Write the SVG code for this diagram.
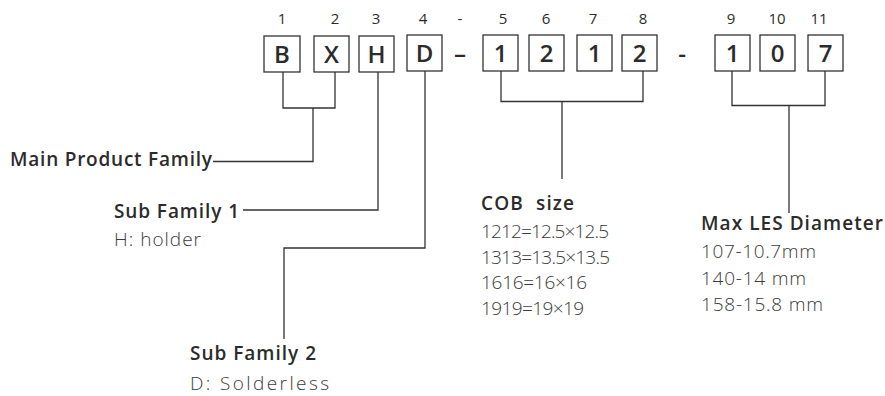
<svg xmlns="http://www.w3.org/2000/svg" width="885" height="396" viewBox="0 0 885 396">
<style>
.box{fill:#fff;stroke:#333;stroke-width:1.3}
.ch{font-family:"Open Sans","Liberation Sans",sans-serif;font-weight:600;font-size:24px;fill:#2b2b2b;text-anchor:middle}
.num{font-family:"Open Sans","Liberation Sans",sans-serif;font-size:15px;fill:#2b2b2b;text-anchor:middle}
.hd{font-family:"Open Sans","Liberation Sans",sans-serif;font-weight:600;font-size:19px;fill:#2b2b2b}
.bd{font-family:"Open Sans","Liberation Sans",sans-serif;font-weight:300;font-size:19px;fill:#3a3a3a}
.ln{fill:none;stroke:#333;stroke-width:1.3}
</style>
<rect width="885" height="396" fill="#fff"/>
<g id="indices">
<text class="num" x="282" y="24">1</text>
<text class="num" x="335" y="24">2</text>
<text class="num" x="376" y="24">3</text>
<text class="num" x="423" y="24">4</text>
<text class="num" x="460" y="24">-</text>
<text class="num" x="503" y="24">5</text>
<text class="num" x="546" y="24">6</text>
<text class="num" x="593" y="24">7</text>
<text class="num" x="643" y="24">8</text>
<text class="num" x="731" y="24">9</text>
<text class="num" x="777" y="24">10</text>
<text class="num" x="819" y="24">11</text>
</g>
<g id="code">
<g id="c1"><rect class="box" x="264" y="36" width="36" height="36"/><text class="ch" x="282" y="63">B</text></g>
<g id="c2"><rect class="box" x="314" y="36" width="35" height="36"/><text class="ch" x="331.5" y="63">X</text></g>
<g id="c3"><rect class="box" x="359" y="36" width="35" height="36"/><text class="ch" x="376.5" y="63">H</text></g>
<g id="c4"><rect class="box" x="407" y="35" width="35" height="36"/><text class="ch" x="424.5" y="62">D</text></g>
<text class="ch" x="460" y="62">–</text>
<g id="c5"><rect class="box" x="483" y="35" width="35" height="36"/><text class="ch" x="500.5" y="62">1</text></g>
<g id="c6"><rect class="box" x="529" y="35" width="35" height="36"/><text class="ch" x="546.5" y="62">2</text></g>
<g id="c7"><rect class="box" x="577" y="35" width="35" height="36"/><text class="ch" x="594.5" y="62">1</text></g>
<g id="c8"><rect class="box" x="622" y="35" width="35" height="36"/><text class="ch" x="639.5" y="62">2</text></g>
<text class="ch" x="682" y="62">-</text>
<g id="c9"><rect class="box" x="715" y="35" width="35" height="36"/><text class="ch" x="732.5" y="62">1</text></g>
<g id="c10"><rect class="box" x="760" y="35" width="35" height="36"/><text class="ch" x="777.5" y="62">0</text></g>
<g id="c11"><rect class="box" x="808" y="35" width="35" height="36"/><text class="ch" x="825.5" y="62">7</text></g>
</g>
<g id="connectors">
<path class="ln" d="M283 72V108H335V72M313 108V161.5H213"/>
<path class="ln" d="M378 72V210H243"/>
<path class="ln" d="M425 71V248H284V339"/>
<path class="ln" d="M501 71V101.5H643V71M562 101.5V179"/>
<path class="ln" d="M732 71V105.5H825V71M789 105.5V213"/>
</g>
<g id="main-family"><text class="hd" x="10" y="166" textLength="202">Main Product Family</text></g>
<g id="sub-family-1"><text class="hd" x="114" y="218" textLength="125">Sub Family 1</text><text class="bd" x="114" y="246" textLength="87">H: holder</text></g>
<g id="sub-family-2"><text class="hd" x="190" y="360" textLength="126">Sub Family 2</text><text class="bd" x="190" y="390" textLength="139">D: Solderless</text></g>
<g id="cob-size"><text class="hd" x="481" y="210" xml:space="preserve" textLength="93">COB  size</text>
<text class="bd" x="481" y="238" textLength="128">1212=12.5×12.5</text>
<text class="bd" x="481" y="264" textLength="129">1313=13.5×13.5</text>
<text class="bd" x="481" y="289" textLength="106">1616=16×16</text>
<text class="bd" x="481" y="315" textLength="103">1919=19×19</text></g>
<g id="max-les"><text class="hd" x="701" y="230" textLength="182">Max LES Diameter</text>
<text class="bd" x="701" y="258" textLength="115">107-10.7mm</text>
<text class="bd" x="701" y="285" textLength="105">140-14 mm</text>
<text class="bd" x="701" y="311" textLength="122">158-15.8 mm</text></g>
</svg>
